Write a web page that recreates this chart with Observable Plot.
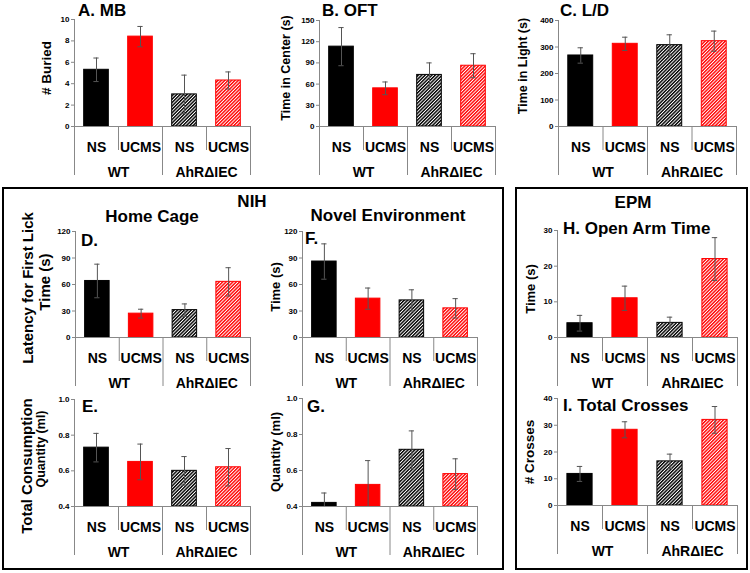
<!DOCTYPE html>
<html><head><meta charset="utf-8">
<script src="https://cdn.jsdelivr.net/npm/d3@7"></script>
<script src="https://cdn.jsdelivr.net/npm/@observablehq/plot@0.6"></script>
<style>
body{margin:0;background:#fff;}
#root{position:relative;width:750px;height:573px;overflow:hidden;font-family:"Liberation Sans",Arial,sans-serif;font-weight:bold;color:#000;background:#fff;}
.pan{position:absolute;}
.lbl{position:absolute;white-space:nowrap;line-height:1;font-weight:bold;}
.box{position:absolute;border:2px solid #000;box-sizing:border-box;}
svg [aria-label^="y-axis"] line, svg [aria-label="y-axis tick"] path, svg .domain{stroke:#888;}
</style>
</head><body>
<svg width="0" height="0" style="position:absolute">
  <defs>
    <pattern id="hatchK" patternUnits="userSpaceOnUse" width="2.4" height="2.4" patternTransform="rotate(45)">
      <rect width="2.4" height="2.4" fill="#fff"/>
      <line x1="0.7" y1="0" x2="0.7" y2="2.4" stroke="#000" stroke-width="1.45"/>
    </pattern>
    <pattern id="hatchR" patternUnits="userSpaceOnUse" width="2.4" height="2.4" patternTransform="rotate(45)">
      <rect width="2.4" height="2.4" fill="#fff"/>
      <line x1="0.7" y1="0" x2="0.7" y2="2.4" stroke="#ff0000" stroke-width="1.45"/>
    </pattern>
  </defs>
</svg>
<div id="root"></div>
<script>
// ---------- data ----------
const conditions = ["NS", "UCMS", "NS", "UCMS"];
const genotypes = ["WT", "AhRΔIEC"];

const mbMean = [5.3, 8.4, 3.0, 4.3];
const mbSem  = [1.1, 0.95, 1.8, 0.8];
const oftMean = [113, 54, 73, 86];
const oftSem  = [27, 9, 17, 17];
const ldMean = [268, 312, 307, 322];
const ldSem  = [29, 25, 39, 38];
const hcLatMean = [64, 27, 31, 63];
const hcLatSem  = [19, 5, 7, 16];
const hcQtyMean = [0.73, 0.65, 0.60, 0.62];
const hcQtySem  = [0.08, 0.10, 0.08, 0.105];
const neLatMean = [86, 44, 42, 33];
const neLatSem  = [20, 12, 12, 11];
const neQtyMean = [0.42, 0.52, 0.715, 0.58];
const neQtySem  = [0.055, 0.135, 0.105, 0.085];
const openArmMean = [4.0, 11.0, 4.1, 22.0];
const openArmSem  = [2.2, 3.4, 1.6, 6.0];
const crossesMean = [11.8, 28.3, 16.5, 32.0];
const crossesSem  = [2.8, 3.0, 2.7, 5.0];

const ticks10 = [0, 2, 4, 6, 8, 10];
const ticks150 = [0, 30, 60, 90, 120, 150];
const ticks400 = [0, 100, 200, 300, 400];
const ticks120 = [0, 30, 60, 90, 120];
const ticksQty = [0.4, 0.6, 0.8, 1.0];
const ticks30 = [0, 10, 20, 30];
const ticks40 = [0, 10, 20, 30, 40];

// ---------- styles ----------
const barFill = ["#000000", "#ff0000", "url(#hatchK)", "url(#hatchR)"];
const barStroke = ["#000000", "#ff0000", "#000000", "#ff0000"];
const FONT = '"Liberation Sans", Arial, sans-serif';

const panels = [
  {mean: mbMean, sem: mbSem, domain: [0, 10], ticks: ticks10, x0: 74, x1: 250, yTop: 19, y0: 126},
  {mean: oftMean, sem: oftSem, domain: [0, 150], ticks: ticks150, x0: 319, x1: 495, yTop: 20, y0: 126},
  {mean: ldMean, sem: ldSem, domain: [0, 400], ticks: ticks400, x0: 558, x1: 736, yTop: 20, y0: 126},
  {mean: hcLatMean, sem: hcLatSem, domain: [0, 120], ticks: ticks120, x0: 75, x1: 250, yTop: 231, y0: 337},
  {mean: hcQtyMean, sem: hcQtySem, domain: [0.4, 1.0], ticks: ticksQty, fmt: ".1f", x0: 74, x1: 250, yTop: 399, y0: 506},
  {mean: neLatMean, sem: neLatSem, domain: [0, 120], ticks: ticks120, x0: 302, x1: 477, yTop: 231, y0: 337},
  {mean: neQtyMean, sem: neQtySem, domain: [0.4, 1.0], ticks: ticksQty, fmt: ".1f", x0: 302, x1: 477, yTop: 398, y0: 506},
  {mean: openArmMean, sem: openArmSem, domain: [0, 30], ticks: ticks30, x0: 557, x1: 737, yTop: 230, y0: 337},
  {mean: crossesMean, sem: crossesSem, domain: [0, 40], ticks: ticks40, x0: 557, x1: 737, yTop: 398, y0: 505}
];

const root = document.getElementById("root");

function place(node, left, top) {
  const d = document.createElement("div");
  d.className = "pan";
  d.style.left = left + "px";
  d.style.top = top + "px";
  d.appendChild(node);
  root.appendChild(d);
}

function makePanel(p) {
  const ML = 34, MR = 3, MT = 6, MB = 2;
  const W = ML + (p.x1 - p.x0) + MR;
  const H = MT + (p.y0 - p.yTop) + MB;
  const ymin = p.domain[0];
  const rows = p.mean.map((m, i) => ({i, mean: m, sem: p.sem[i]}));
  const half = 0.28, cap = 0.06;
  const style = {fontFamily: FONT, fontSize: "8px", fontWeight: "bold", background: "transparent", overflow: "visible"};
  const chart = Plot.plot({
    width: W, height: H,
    marginLeft: ML, marginRight: MR, marginTop: MT, marginBottom: MB,
    x: {domain: [0, conditions.length], axis: null},
    y: {domain: p.domain, ticks: p.ticks, tickSize: 3, tickPadding: 2, label: null,
        tickFormat: p.fmt ? d3.format(p.fmt) : undefined},
    color: {type: "identity"},
    style,
    marks: [
      Plot.rectY(rows, {x1: d => d.i + 0.5 - half, x2: d => d.i + 0.5 + half, y1: ymin, y2: "mean",
        fill: d => barFill[d.i], stroke: d => barStroke[d.i], strokeWidth: 1}),
      Plot.ruleX(rows, {x: d => d.i + 0.5, y1: d => Math.max(ymin, d.mean - d.sem), y2: d => d.mean + d.sem,
        stroke: "#555", strokeWidth: 1}),
      Plot.ruleY(rows, {y: d => d.mean + d.sem, x1: d => d.i + 0.5 - cap, x2: d => d.i + 0.5 + cap,
        stroke: "#555", strokeWidth: 1}),
      Plot.ruleY(rows.filter(d => d.mean - d.sem > ymin), {y: d => d.mean - d.sem,
        x1: d => d.i + 0.5 - cap, x2: d => d.i + 0.5 + cap, stroke: "#555", strokeWidth: 1}),
      Plot.ruleX([0], {stroke: "#888"}),
      Plot.ruleY([ymin], {stroke: "#888"})
    ]
  });
  place(chart, p.x0 - ML, p.yTop - MT);

  const TH = 50;
  const groupEdges = [0, 2, 4];
  const innerEdges = [1, 3];
  const table = Plot.plot({
    width: W, height: TH,
    marginLeft: ML, marginRight: MR, marginTop: 0, marginBottom: 0,
    x: {domain: [0, conditions.length], axis: null},
    style,
    marks: [
      Plot.ruleX(groupEdges, {stroke: "#888", insetBottom: 1}),
      Plot.ruleX(innerEdges, {stroke: "#888", insetBottom: 26}),
      Plot.text(conditions, {x: (d, i) => i + 0.5, text: d => d, frameAnchor: "top", dy: 16,
        fontSize: 14, fontWeight: "bold", fill: "#000"}),
      Plot.text(genotypes, {x: (d, i) => 2 * i + 1, text: d => d, frameAnchor: "top", dy: 41,
        fontSize: 14, fontWeight: "bold", fill: "#000"})
    ]
  });
  place(table, p.x0 - ML, p.y0);
}

// boxes
function box(left, top, w, h) {
  const d = document.createElement("div");
  d.className = "box";
  Object.assign(d.style, {left: left + "px", top: top + "px", width: w + "px", height: h + "px"});
  root.appendChild(d);
}
box(2, 187, 502, 383);
box(515, 187, 233, 383);

panels.forEach(makePanel);

// labels
function label(text, x, y, size, mode) {
  const d = document.createElement("div");
  d.className = "lbl";
  d.textContent = text;
  d.style.fontSize = size + "px";
  d.style.left = x + "px";
  d.style.top = y + "px";
  if (mode === "rot") d.style.transform = "translate(-50%,-50%) rotate(-90deg)";
  else if (mode === "center") d.style.transform = "translate(-50%,-50%)";
  else d.style.transform = "translateY(-50%)";
  root.appendChild(d);
}
label("A. MB", 78, 10, 17);
label("B. OFT", 322, 10, 17);
label("C. L/D", 560, 10, 17);
label("NIH", 252, 201, 17, "center");
label("Home Cage", 152, 216, 17, "center");
label("Novel Environment", 388, 215, 17, "center");
label("EPM", 633, 202, 17, "center");
label("H. Open Arm Time", 563, 228, 17);
label("D.", 81, 240, 17);
label("E.", 82, 406, 17);
label("F.", 305, 238, 17);
label("G.", 307, 406, 17);
label("I. Total Crosses", 563, 405, 17);

label("# Buried", 47, 68, 13.5, "rot");
label("Time in Center (s)", 286, 68, 12.5, "rot");
label("Time in Light (s)", 523, 66, 12.5, "rot");
label("Latency for First Lick", 27, 288, 15, "rot");
label("Time (s)", 44, 282, 15, "rot");
label("Total Consumption", 26, 466, 15, "rot");
label("Quantity (ml)", 41, 449, 12.5, "rot");
label("Time (s)", 275, 287, 13, "rot");
label("Quantity (ml)", 275, 452, 13, "rot");
label("Time (s)", 530, 289, 13, "rot");
label("# Crosses", 530, 452, 13.5, "rot");
</script>
</body></html>
